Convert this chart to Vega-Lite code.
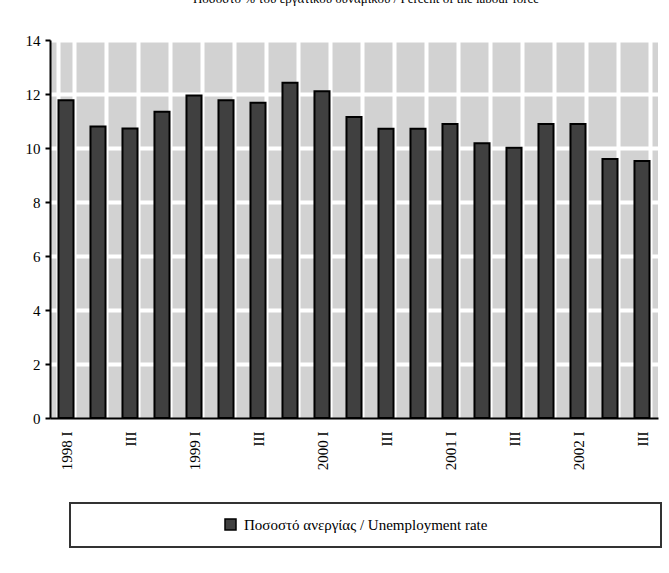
{
  "$schema": "https://vega.github.io/schema/vega-lite/v6.json",
  "width": 608,
  "height": 378,
  "autosize": {"type": "none"},
  "padding": {"left": 50, "top": 40, "right": 11, "bottom": 155},
  "background": "white",
  "title": {
    "text": "Ποσοστό % του εργατικού δυναμικού / Percent of the labour force",
    "font": "Liberation Serif",
    "fontSize": 13,
    "fontWeight": "normal",
    "color": "black",
    "anchor": "middle",
    "offset": 27,
    "dx": 12
  },
  "data": {
    "values": [
      {"quarter": "1998 I", "rate": 11.77, "series": "Ποσοστό ανεργίας / Unemployment rate"},
      {"quarter": "1998 II", "rate": 10.8, "series": "Ποσοστό ανεργίας / Unemployment rate"},
      {"quarter": "1998 III", "rate": 10.72, "series": "Ποσοστό ανεργίας / Unemployment rate"},
      {"quarter": "1998 IV", "rate": 11.34, "series": "Ποσοστό ανεργίας / Unemployment rate"},
      {"quarter": "1999 I", "rate": 11.94, "series": "Ποσοστό ανεργίας / Unemployment rate"},
      {"quarter": "1999 II", "rate": 11.77, "series": "Ποσοστό ανεργίας / Unemployment rate"},
      {"quarter": "1999 III", "rate": 11.68, "series": "Ποσοστό ανεργίας / Unemployment rate"},
      {"quarter": "1999 IV", "rate": 12.42, "series": "Ποσοστό ανεργίας / Unemployment rate"},
      {"quarter": "2000 I", "rate": 12.1, "series": "Ποσοστό ανεργίας / Unemployment rate"},
      {"quarter": "2000 II", "rate": 11.15, "series": "Ποσοστό ανεργίας / Unemployment rate"},
      {"quarter": "2000 III", "rate": 10.71, "series": "Ποσοστό ανεργίας / Unemployment rate"},
      {"quarter": "2000 IV", "rate": 10.71, "series": "Ποσοστό ανεργίας / Unemployment rate"},
      {"quarter": "2001 I", "rate": 10.89, "series": "Ποσοστό ανεργίας / Unemployment rate"},
      {"quarter": "2001 II", "rate": 10.18, "series": "Ποσοστό ανεργίας / Unemployment rate"},
      {"quarter": "2001 III", "rate": 10.01, "series": "Ποσοστό ανεργίας / Unemployment rate"},
      {"quarter": "2001 IV", "rate": 10.89, "series": "Ποσοστό ανεργίας / Unemployment rate"},
      {"quarter": "2002 I", "rate": 10.89, "series": "Ποσοστό ανεργίας / Unemployment rate"},
      {"quarter": "2002 II", "rate": 9.59, "series": "Ποσοστό ανεργίας / Unemployment rate"},
      {"quarter": "2002 III", "rate": 9.52, "series": "Ποσοστό ανεργίας / Unemployment rate"}
    ]
  },
  "mark": {"type": "bar", "stroke": "black", "strokeWidth": 2},
  "encoding": {
    "x": {
      "field": "quarter",
      "type": "nominal",
      "sort": null,
      "scale": {"paddingInner": 0.53, "paddingOuter": 0.265},
      "axis": {
        "title": null,
        "labelExpr": "isString(datum.value) ? (length(datum.value) == 6 ? datum.value : (length(datum.value) == 8 ? 'III' : '')) : ''",
        "labelAngle": 270,
        "labelAlign": "right",
        "labelBaseline": "middle",
        "labelFont": "Liberation Serif",
        "labelFontSize": 15,
        "labelColor": "black",
        "labelPadding": 13,
        "labelOverlap": false,
        "ticks": false,
        "domainColor": "black",
        "domainWidth": 2,
        "grid": true,
        "gridColor": "white",
        "gridWidth": 4,
        "tickBand": "extent"
      }
    },
    "y": {
      "field": "rate",
      "type": "quantitative",
      "scale": {"domain": [0, 14], "nice": false},
      "axis": {
        "title": null,
        "values": [0, 2, 4, 6, 8, 10, 12, 14],
        "labelFont": "Liberation Serif",
        "labelFontSize": 15,
        "labelColor": "black",
        "labelPadding": 5,
        "tickSize": 5,
        "tickColor": "black",
        "tickWidth": 2,
        "domainColor": "black",
        "domainWidth": 2,
        "grid": true,
        "gridColor": "white",
        "gridWidth": 4,
        "gridOpacity": {"condition": {"test": "datum.value == 0", "value": 0}, "value": 1}
      }
    },
    "color": {
      "field": "series",
      "type": "nominal",
      "scale": {"range": ["#404040"]},
      "legend": {
        "orient": "none",
        "legendX": 20,
        "legendY": 463,
        "title": "\u00a0",
        "titleOrient": "right",
        "titlePadding": 160,
        "titleFontSize": 15,
        "padding": 14,
        "strokeColor": "#333333",
        "fillColor": "white",
        "symbolType": "square",
        "symbolSize": 121,
        "symbolStrokeColor": "black",
        "symbolStrokeWidth": 1.5,
        "symbolFillColor": "#404040",
        "symbolOffset": 139,
        "labelFont": "Liberation Serif",
        "labelFontSize": 15,
        "labelColor": "black",
        "labelOffset": 6,
        "labelLimit": 0,
        "encode": {"legend": {"update": {"strokeWidth": {"value": 2}}}}
      }
    }
  },
  "config": {
    "view": {"fill": "#d2d2d2", "stroke": null},
    "font": "Liberation Serif"
  }
}
